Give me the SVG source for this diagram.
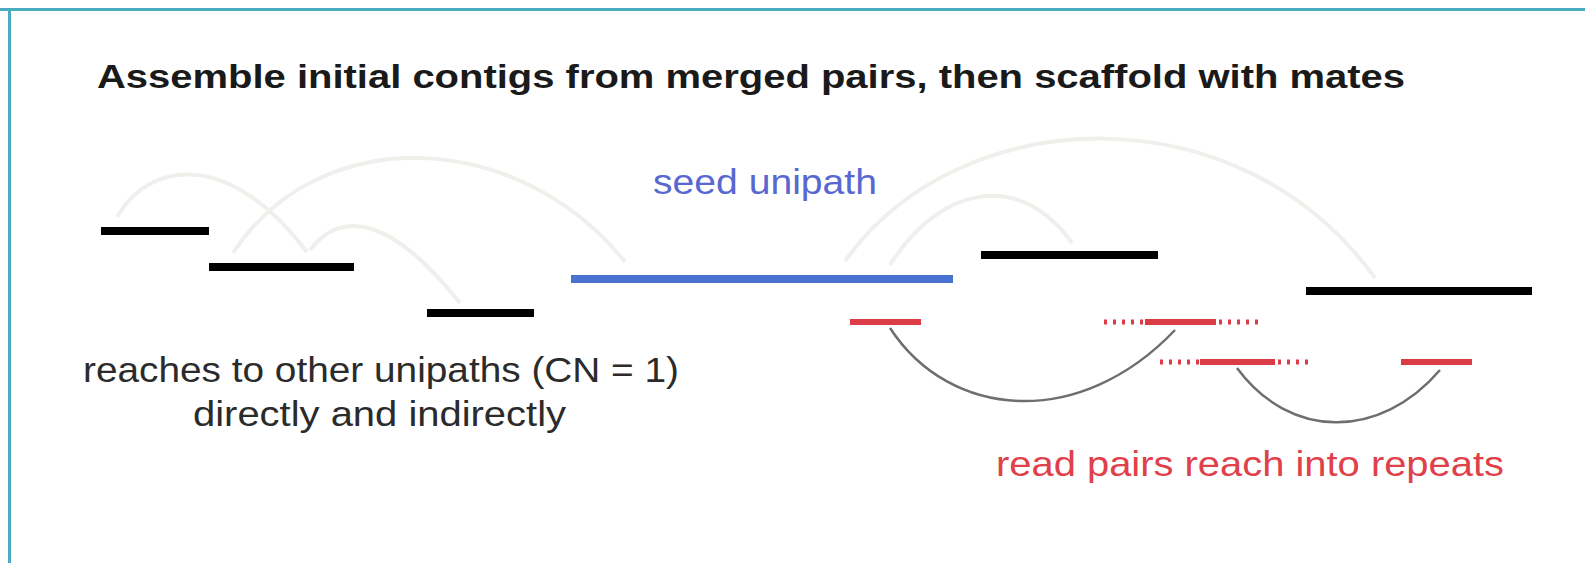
<svg xmlns="http://www.w3.org/2000/svg" width="1585" height="563" viewBox="0 0 1585 563">
<style>
  .t{font-family:"Liberation Sans",Arial,Helvetica,sans-serif;font-size:35px}
  .title{font-weight:bold;fill:#1a1a1a;font-size:34px}
  .dark{fill:#2b2b2b}
  .blue{fill:#5868d0}
  .red{fill:#e0404a}
  .seg{stroke:#000;stroke-width:8;stroke-linecap:butt}
  .arc{fill:none;stroke:#efefec;stroke-width:4}
  .mate{fill:none;stroke:#6e6e6e;stroke-width:2.5}
  .rd{stroke:#dc3c46;stroke-width:6}
  .rdot{stroke:#dc3c46;stroke-width:5;stroke-dasharray:3 6}
</style>
<rect width="1585" height="563" fill="#fff"/>
<line x1="0" y1="9.5" x2="1585" y2="9.5" stroke="#4aaabf" stroke-width="3"/>
<line x1="9.5" y1="9" x2="9.5" y2="563" stroke="#4aaabf" stroke-width="3"/>

<g id="title"><text class="t title" x="97" y="88" textLength="1308" lengthAdjust="spacingAndGlyphs">Assemble initial contigs from merged pairs, then scaffold with mates</text></g>

<g id="connectors">
  <path class="arc" d="M117,217 C150,160 230,150 307,252"/>
  <path class="arc" d="M233,253 C320,120 520,130 625,262"/>
  <path class="arc" d="M310,250 C340,210 390,215 460,303"/>
  <path class="arc" d="M845,261 C960,100 1240,90 1375,278"/>
  <path class="arc" d="M890,265 C940,185 1020,170 1072,243"/>
  <path class="mate" d="M890,328 C950,420 1080,430 1175,330"/>
  <path class="mate" d="M1237,368 C1290,440 1380,440 1440,370"/>
</g>

<g id="unipath-left-1"><line class="seg" x1="101" y1="231" x2="209" y2="231"/></g>
<g id="unipath-left-2"><line class="seg" x1="209" y1="267" x2="354" y2="267"/></g>
<g id="unipath-left-3"><line class="seg" x1="427" y1="313" x2="534" y2="313"/></g>
<g id="seed-unipath"><line x1="571" y1="279" x2="953" y2="279" stroke="#4a72d0" stroke-width="8"/></g>
<g id="unipath-right-1"><line class="seg" x1="981" y1="255" x2="1158" y2="255"/></g>
<g id="unipath-right-2"><line class="seg" x1="1306" y1="291" x2="1532" y2="291"/></g>

<g id="read-1"><line class="rd" x1="850" y1="322" x2="921" y2="322"/></g>
<g id="read-2">
  <line class="rdot" x1="1104" y1="322" x2="1145" y2="322"/>
  <line class="rd" x1="1145" y1="322" x2="1216" y2="322"/>
  <line class="rdot" x1="1219" y1="322" x2="1258" y2="322"/>
</g>
<g id="read-3">
  <line class="rdot" x1="1160" y1="362" x2="1200" y2="362"/>
  <line class="rd" x1="1200" y1="362" x2="1275" y2="362"/>
  <line class="rdot" x1="1278" y1="362" x2="1312" y2="362"/>
</g>
<g id="read-4"><line class="rd" x1="1401" y1="362" x2="1472" y2="362"/></g>

<g id="label-seed"><text class="t blue" x="653" y="194" textLength="224" lengthAdjust="spacingAndGlyphs">seed unipath</text></g>
<g id="label-reaches">
  <text class="t dark" x="83" y="382" textLength="596" lengthAdjust="spacingAndGlyphs">reaches to other unipaths (CN = 1)</text>
  <text class="t dark" x="193" y="426" textLength="373" lengthAdjust="spacingAndGlyphs">directly and indirectly</text>
</g>
<g id="label-repeats"><text class="t red" x="996" y="476" textLength="508" lengthAdjust="spacingAndGlyphs">read pairs reach into repeats</text></g>
</svg>
